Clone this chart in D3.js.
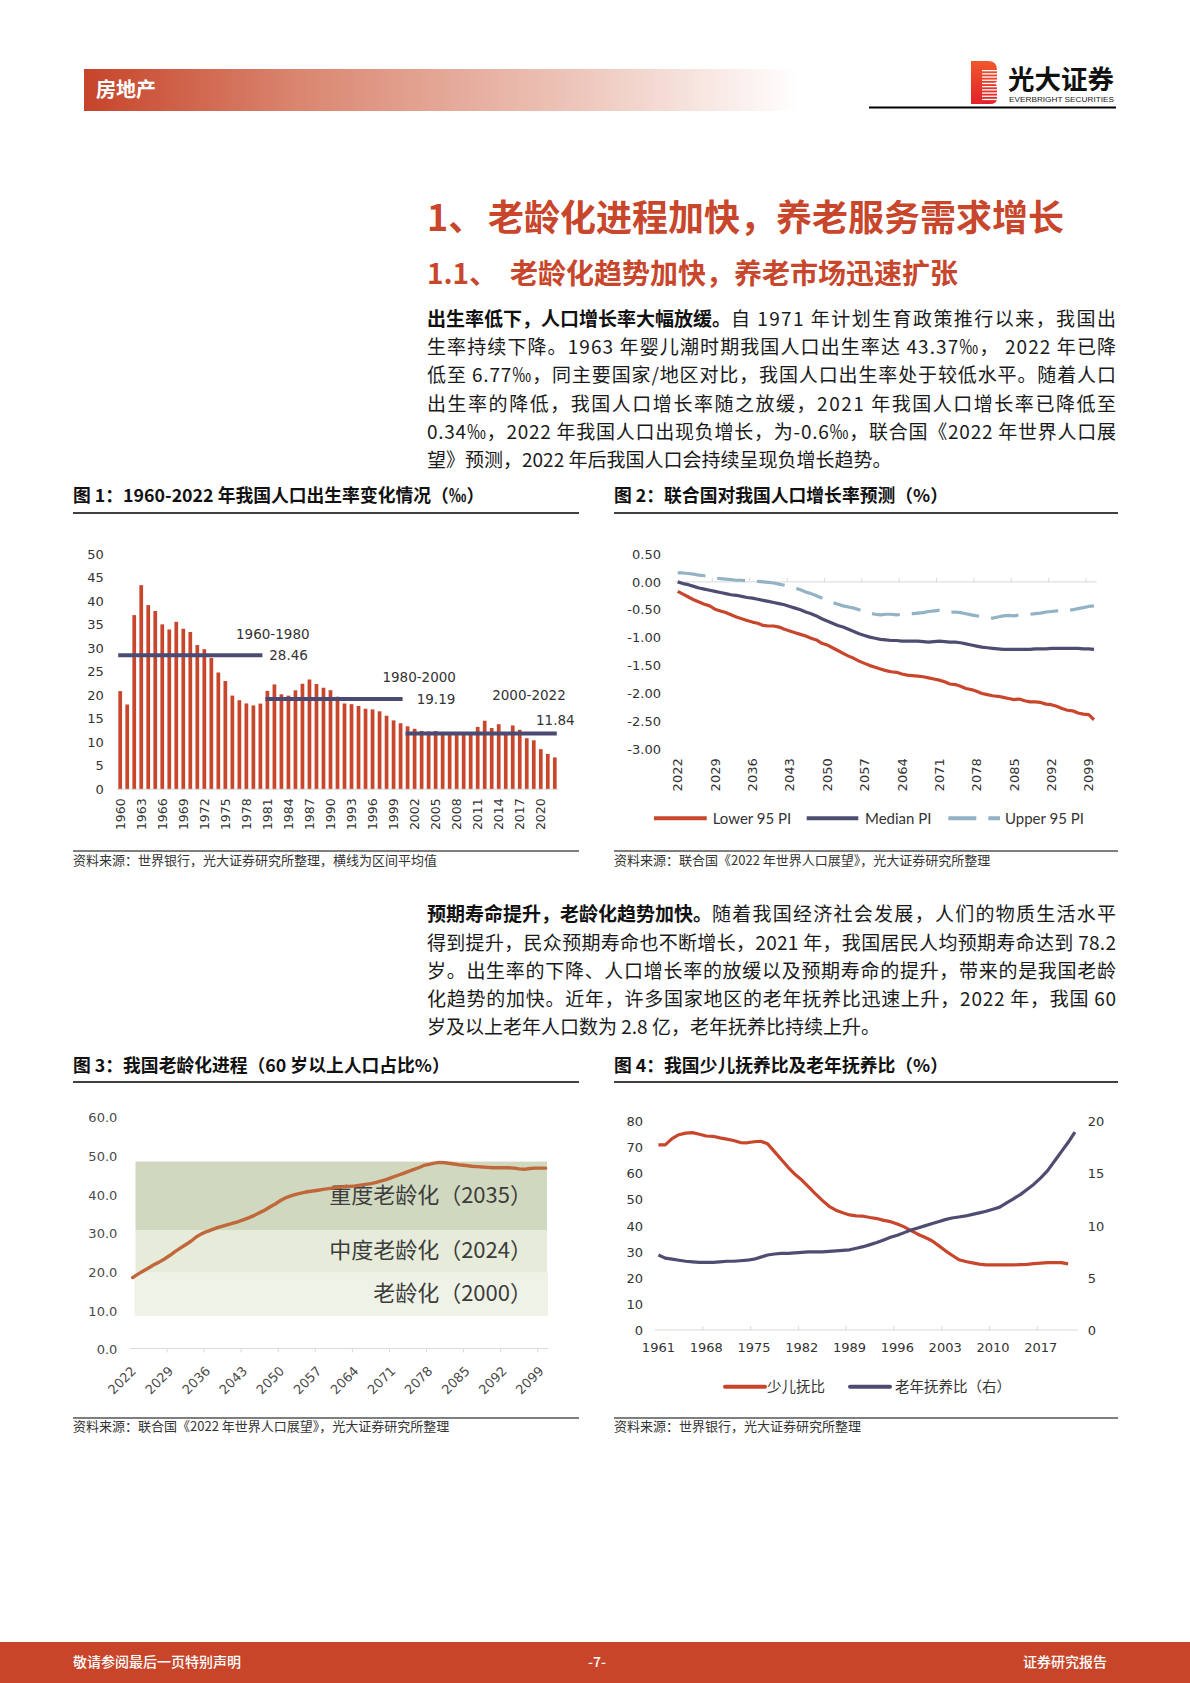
<!DOCTYPE html>
<html>
<head>
<meta charset="utf-8">
<script src="https://cdn.jsdelivr.net/npm/d3@7"></script>
<style>
  html, body { margin: 0; padding: 0; background: #ffffff; }
  svg { display: block; }
</style>
</head>
<body>
<svg id="page" width="1190" height="1683"></svg>
<script>
// ================= DATA =================
// Figure 1: birth rate (‰), 1960-2022
const birthYears = d3.range(1960, 2023);
const birthRate = [20.86, 18.02, 37.01, 43.37, 39.14, 37.88, 35.05, 33.96, 35.59, 34.11,
  33.43, 30.65, 29.77, 27.93, 24.82, 23.01, 19.91, 18.93, 18.25, 17.82,
  18.21, 20.91, 22.28, 20.19, 19.90, 21.04, 22.43, 23.33, 22.37, 21.58,
  21.06, 19.68, 18.24, 18.09, 17.70, 17.12, 16.98, 16.57, 15.64, 14.64,
  14.03, 13.38, 12.86, 12.41, 12.29, 12.40, 12.09, 12.10, 12.14, 11.95,
  11.90, 13.27, 14.57, 13.03, 13.83, 11.99, 13.57, 12.64, 10.86, 10.41,
  8.52, 7.52, 6.77];
const birthTicks = [0, 5, 10, 15, 20, 25, 30, 35, 40, 45, 50];
const birthXLabels = [1960, 1963, 1966, 1969, 1972, 1975, 1978, 1981, 1984, 1987, 1990,
  1993, 1996, 1999, 2002, 2005, 2008, 2011, 2014, 2017, 2020];
const avgPeriods = ["1960-1980", "1980-2000", "2000-2022"];
const avgFrom = [1960, 1981, 2001];
const avgTo = [1980, 2000, 2022];
const avgValues = [28.46, 19.19, 11.84];

// Figure 2: UN projection of population growth rate (%), 2022-2100
const projYears = d3.range(2022, 2101);
const lower95 = [-0.17, -0.22, -0.27, -0.32, -0.36, -0.40, -0.43, -0.49, -0.52, -0.55,
  -0.59, -0.63, -0.66, -0.69, -0.72, -0.74, -0.78, -0.79, -0.79, -0.81,
  -0.85, -0.88, -0.91, -0.94, -0.97, -1.01, -1.04, -1.10, -1.13, -1.18,
  -1.23, -1.28, -1.33, -1.37, -1.42, -1.46, -1.50, -1.53, -1.56, -1.59,
  -1.61, -1.62, -1.65, -1.67, -1.68, -1.69, -1.70, -1.72, -1.74, -1.76,
  -1.79, -1.83, -1.84, -1.87, -1.91, -1.93, -1.96, -2.00, -2.02, -2.04,
  -2.05, -2.07, -2.09, -2.11, -2.10, -2.13, -2.15, -2.15, -2.16, -2.19,
  -2.20, -2.23, -2.27, -2.30, -2.31, -2.35, -2.37, -2.38, -2.47];
const median = [0.00, -0.03, -0.05, -0.08, -0.11, -0.13, -0.15, -0.17, -0.19, -0.21,
  -0.23, -0.24, -0.26, -0.28, -0.29, -0.31, -0.33, -0.35, -0.37, -0.39,
  -0.41, -0.44, -0.47, -0.50, -0.54, -0.57, -0.61, -0.66, -0.70, -0.74,
  -0.78, -0.81, -0.85, -0.89, -0.93, -0.96, -0.99, -1.01, -1.03, -1.04,
  -1.05, -1.05, -1.06, -1.06, -1.06, -1.06, -1.07, -1.08, -1.07, -1.06,
  -1.07, -1.08, -1.08, -1.09, -1.11, -1.13, -1.15, -1.17, -1.18, -1.19,
  -1.20, -1.21, -1.21, -1.21, -1.21, -1.21, -1.21, -1.20, -1.20, -1.20,
  -1.19, -1.19, -1.19, -1.19, -1.19, -1.19, -1.20, -1.20, -1.21];
const upper95 = [0.16, 0.16, 0.15, 0.14, 0.12, 0.11, 0.10, 0.07, 0.06, 0.05,
  0.04, 0.03, 0.03, 0.02, 0.02, 0.01, 0.00, -0.01, -0.02, -0.04,
  -0.06, -0.08, -0.11, -0.14, -0.18, -0.21, -0.25, -0.29, -0.33, -0.37,
  -0.40, -0.43, -0.45, -0.47, -0.50, -0.53, -0.56, -0.58, -0.59, -0.58,
  -0.58, -0.59, -0.58, -0.58, -0.57, -0.56, -0.55, -0.53, -0.52, -0.51,
  -0.53, -0.54, -0.54, -0.55, -0.57, -0.59, -0.61, -0.62, -0.64, -0.65,
  -0.63, -0.61, -0.60, -0.61, -0.59, -0.58, -0.58, -0.57, -0.56, -0.54,
  -0.53, -0.52, -0.51, -0.50, -0.50, -0.48, -0.46, -0.44, -0.43];
const growthTicks = [0.5, 0, -0.5, -1, -1.5, -2, -2.5, -3];
const projXLabels = [2022, 2029, 2036, 2043, 2050, 2057, 2064, 2071, 2078, 2085, 2092, 2099];
const growthSeriesNames = ["Lower 95 PI", "Median PI", "Upper 95 PI"];

// Figure 3: share of population aged 60+ (%), 2022-2100
const agedShare = [18.6, 19.5, 20.3, 21.1, 21.9, 22.6, 23.4, 24.3, 25.3, 26.2,
  27.1, 28.0, 29.1, 29.9, 30.5, 31.0, 31.5, 31.9, 32.3, 32.7,
  33.1, 33.6, 34.1, 34.7, 35.4, 36.1, 36.9, 37.7, 38.6, 39.3,
  39.8, 40.2, 40.5, 40.8, 41.0, 41.2, 41.4, 41.6, 41.8, 42.0,
  42.1, 42.2, 42.3, 42.5, 42.7, 42.9, 43.2, 43.6, 44.0, 44.5,
  45.0, 45.5, 46.0, 46.5, 47.0, 47.6, 47.9, 48.2, 48.4, 48.3,
  48.1, 47.9, 47.7, 47.6, 47.4, 47.3, 47.2, 47.1, 47.0, 47.0,
  47.0, 47.0, 46.9, 46.7, 46.6, 46.8, 46.9, 46.9, 46.9];
const agedTicks = [0, 10, 20, 30, 40, 50, 60];
const agingStages = ["老龄化（2000）", "中度老龄化（2024）", "重度老龄化（2035）"];
const stageEdges = [8.7, 19.9, 30.9, 48.6];

// Figure 4: dependency ratios (%), 1961-2022
const depYears = d3.range(1961, 2023);
const childDep = [71.1, 71.1, 73.5, 75.0, 75.6, 75.8, 75.2, 74.5, 74.4, 73.8,
  73.3, 72.8, 72.0, 71.9, 72.3, 72.5, 71.5, 68.5, 65.5, 62.5,
  59.8, 57.6, 55.0, 52.3, 49.8, 47.5, 46.0, 45.0, 44.2, 43.8,
  43.7, 43.2, 42.8, 42.1, 41.6, 40.7, 39.6, 38.2, 36.8, 35.6,
  34.4, 32.5, 30.5, 28.7, 27.0, 26.3, 25.8, 25.3, 25.0, 25.0,
  25.0, 25.0, 25.0, 25.1, 25.2, 25.5, 25.7, 25.9, 25.9, 25.9,
  25.4];
const oldDep = [7.2, 6.9, 6.8, 6.7, 6.6, 6.55, 6.5, 6.5, 6.5, 6.55,
  6.6, 6.6, 6.65, 6.7, 6.8, 7.0, 7.2, 7.3, 7.35, 7.35,
  7.4, 7.45, 7.5, 7.5, 7.5, 7.55, 7.6, 7.65, 7.7, 7.85,
  8.0, 8.2, 8.4, 8.65, 8.9, 9.1, 9.35, 9.6, 9.8, 10.0,
  10.2, 10.4, 10.6, 10.75, 10.85, 10.95, 11.1, 11.25, 11.4, 11.6,
  11.8, 12.2, 12.6, 13.0, 13.5, 14.0, 14.6, 15.3, 16.2, 17.1,
  18.0, 19.0];
const depLeftTicks = [0, 10, 20, 30, 40, 50, 60, 70, 80];
const depRightTicks = [0, 5, 10, 15, 20];
const depXLabels = [1961, 1968, 1975, 1982, 1989, 1996, 2003, 2010, 2017];
const depSeriesNames = ["少儿抚比", "老年抚养比（右）"];

// ================= STYLE =================
const CJK = '"Noto Sans CJK SC", "Noto Sans", sans-serif';
const NUM = '"DejaVu Sans", sans-serif';
const RED = "#c8462b";
const PURPLE = "#4f4c71";
const LIGHTBLUE = "#93b3c5";
const TXT = "#333333";

const svg = d3.select("#page");
svg.append("rect").attr("width", 1190).attr("height", 1683).attr("fill", "#fff");
const defs = svg.append("defs");

function txt(x, y, s, size, opts = {}) {
  const t = svg.append("text").attr("x", x).attr("y", y).attr("dy", opts.dy || "0.36em")
    .attr("font-size", size).attr("font-family", opts.family || CJK)
    .attr("fill", opts.fill || "#111").attr("font-weight", opts.weight || 400)
    .attr("text-anchor", opts.anchor || "start").text(s);
  return t;
}
function hline(x1, x2, y, color, w) {
  svg.append("line").attr("x1", x1).attr("x2", x2).attr("y1", y).attr("y2", y)
    .attr("stroke", color).attr("stroke-width", w);
}
function cleanAxis(g, size, family, color) {
  g.select(".domain").remove();
  g.selectAll(".tick line").remove();
  g.attr("font-size", size).attr("font-family", family);
  g.selectAll("text").attr("fill", color);
}

// ================= HEADER =================
const hg = defs.append("linearGradient").attr("id", "hdr").attr("x1", 0).attr("x2", 1);
hg.append("stop").attr("offset", 0).attr("stop-color", "#c6442a");
hg.append("stop").attr("offset", 0.3).attr("stop-color", "#da8670");
hg.append("stop").attr("offset", 0.7).attr("stop-color", "#eec8bd");
hg.append("stop").attr("offset", 1).attr("stop-color", "#ffffff");
svg.append("rect").attr("x", 84).attr("y", 69).attr("width", 716).attr("height", 42).attr("fill", "url(#hdr)");
txt(96, 90, "房地产", 20, { fill: "#fff", weight: 700 });

const lgG = defs.append("linearGradient").attr("id", "logo").attr("x1", 0).attr("y1", 0).attr("x2", 0).attr("y2", 1);
lgG.append("stop").attr("offset", 0).attr("stop-color", "#f0582c");
lgG.append("stop").attr("offset", 1).attr("stop-color", "#e2222c");
svg.append("path").attr("d", "M971,61 L988,61 Q997,61 997,70 L997,80 Q997,83 994,83 Q997,84 997,88 L997,98 Q997,104 990,104 L971,104 Z")
  .attr("fill", "url(#logo)");
for (let i = 0; i < 10; i++) {
  svg.append("rect").attr("x", 982).attr("y", 70 + i * 3.2).attr("width", 16).attr("height", 1.3).attr("fill", "#fff");
}
txt(1008, 79, "光大证券", 26.5, { weight: 700, fill: "#111" });
txt(1009, 99.5, "EVERBRIGHT SECURITIES", 7.5, { family: '"Liberation Sans", sans-serif', fill: "#222" })
  .attr("textLength", 105).attr("lengthAdjust", "spacingAndGlyphs");
hline(869, 1116, 107.5, "#000", 2);

// ================= HEADINGS & PARAGRAPHS =================
txt(427, 218, "1、", 36, { fill: RED, weight: 700 });
txt(488, 218, "老龄化进程加快，养老服务需求增长", 36, { fill: RED, weight: 700 });
txt(427, 274, "1.1、", 28, { fill: RED, weight: 700 });
txt(510, 274, "老龄化趋势加快，养老市场迅速扩张", 28, { fill: RED, weight: 700 });

function paraLine(y, bold, rest, justify) {
  let x = 427;
  if (bold) {
    const b = txt(x, y, bold, 19, { weight: 700, fill: "#111" });
    x += b.node().getComputedTextLength();
  }
  const t = txt(x, y, rest, 19, { fill: "#1a1a1a" });
  if (justify) t.attr("textLength", 1116 - x).attr("lengthAdjust", "spacing");
}
const p1 = [
  ["出生率低下，人口增长率大幅放缓。", "自 1971 年计划生育政策推行以来，我国出", true],
  ["", "生率持续下降。1963 年婴儿潮时期我国人口出生率达 43.37‰， 2022 年已降", true],
  ["", "低至 6.77‰，同主要国家/地区对比，我国人口出生率处于较低水平。随着人口", true],
  ["", "出生率的降低，我国人口增长率随之放缓，2021  年我国人口增长率已降低至", true],
  ["", "0.34‰，2022 年我国人口出现负增长，为-0.6‰，联合国《2022  年世界人口展", true],
  ["", "望》预测，2022 年后我国人口会持续呈现负增长趋势。", false]
];
p1.forEach((l, i) => paraLine(319 + i * 28.3, l[0], l[1], l[2]));
const p2 = [
  ["预期寿命提升，老龄化趋势加快。", "随着我国经济社会发展，人们的物质生活水平", true],
  ["", "得到提升，民众预期寿命也不断增长，2021 年，我国居民人均预期寿命达到 78.2", true],
  ["", "岁。出生率的下降、人口增长率的放缓以及预期寿命的提升，带来的是我国老龄", true],
  ["", "化趋势的加快。近年，许多国家地区的老年抚养比迅速上升，2022 年，我国 60", true],
  ["", "岁及以上老年人口数为 2.8 亿，老年抚养比持续上升。", false]
];
p2.forEach((l, i) => paraLine(914.5 + i * 28.2, l[0], l[1], l[2]));

// ================= FIGURE FRAMES =================
function frame(x1, x2, yTitle, yRule, ySrcRule, ySrc, title, src) {
  txt(x1, yTitle, title, 17.8, { weight: 700, fill: "#111" });
  hline(x1, x2, yRule, "#000", 1.4);
  hline(x1, x2, ySrcRule, "#000", 1.2);
  txt(x1, ySrc, src, 13, { fill: TXT });
}
frame(73, 579, 496, 513, 851, 860, "图 1：1960-2022 年我国人口出生率变化情况（‰）", "资料来源：世界银行，光大证券研究所整理，横线为区间平均值");
frame(614, 1118, 496, 513, 851, 860, "图 2：联合国对我国人口增长率预测（%）", "资料来源：联合国《2022  年世界人口展望》，光大证券研究所整理");
frame(73, 579, 1066, 1082, 1418, 1426, "图 3：我国老龄化进程（60 岁以上人口占比%）", "资料来源：联合国《2022  年世界人口展望》，光大证券研究所整理");
frame(614, 1118, 1066, 1082, 1418, 1426, "图 4：我国少儿抚养比及老年抚养比（%）", "资料来源：世界银行，光大证券研究所整理");

// ================= FIGURE 1 =================
{
  const x = d3.scaleBand().domain(birthYears).range([116.7, 558.3]).paddingInner(0.47).paddingOuter(0.235);
  const y = d3.scaleLinear().domain([0, 50]).range([789.3, 554]);
  const g = svg.append("g");
  hline(116.7, 558.3, y(0), "#d9d9d9", 1);
  g.selectAll("rect.bar").data(birthRate).join("rect").attr("class", "bar")
    .attr("x", (d, i) => x(birthYears[i])).attr("width", x.bandwidth())
    .attr("y", d => y(d)).attr("height", d => y(0) - y(d)).attr("fill", RED);

  const ya = svg.append("g").attr("transform", "translate(116.7,0)")
    .call(d3.axisLeft(y).tickValues(birthTicks).tickSize(0).tickPadding(13));
  cleanAxis(ya, 13, NUM, TXT);

  const xa = svg.append("g").attr("transform", `translate(0,${y(0)})`)
    .call(d3.axisBottom(x).tickValues(birthXLabels).tickSize(0));
  cleanAxis(xa, 12.5, NUM, TXT);
  xa.selectAll("text").attr("transform", "rotate(-90)").attr("text-anchor", "end")
    .attr("x", -9).attr("y", 0).attr("dy", "0.36em");

  const avgLayout = [
    { pdx: 12.4, pdy: -21.3, vdx: 8.9, vdy: 0 },
    { pdx: 18.6, pdy: -21.6, vdx: 16.1, vdy: 0 },
    { pdx: -25.8, pdy: -38, vdx: -18.8, vdy: -13.3 }
  ];
  avgValues.forEach((v, i) => {
    const xs = x(avgFrom[i]) + x.bandwidth() / 2;
    const xe = x(avgTo[i]) + x.bandwidth() / 2;
    const yy = y(v);
    svg.append("line").attr("x1", xs).attr("x2", xe).attr("y1", yy).attr("y2", yy)
      .attr("stroke", "#4b4a73").attr("stroke-width", 4).attr("stroke-linecap", "square");
    const L = avgLayout[i];
    txt(xe + L.pdx, yy + L.pdy, avgPeriods[i], 13.5, { family: NUM, fill: TXT, anchor: "middle" });
    txt(xe + L.vdx, yy + L.vdy, v.toFixed(2), 13.5, { family: NUM, fill: TXT });
  });
}

// ================= FIGURE 2 =================
{
  const x = d3.scaleBand().domain(projYears).range([675, 1096.7]);
  const y = d3.scaleLinear().domain([-3, 0.5]).range([749.3, 554]);
  const cx = (i) => x(projYears[i]) + x.bandwidth() / 2;
  hline(675, 1096.7, y(0), "#d9d9d9", 1);
  projXLabels.slice(1).forEach(yr => {
    svg.append("line").attr("x1", x(yr)).attr("x2", x(yr)).attr("y1", y(0)).attr("y2", y(0) - 4)
      .attr("stroke", "#d9d9d9").attr("stroke-width", 1);
  });
  const ya = svg.append("g").attr("transform", "translate(675,0)")
    .call(d3.axisLeft(y).tickValues(growthTicks).tickSize(0).tickPadding(14).tickFormat(d => d.toFixed(2)));
  cleanAxis(ya, 13, NUM, TXT);
  const xa = svg.append("g").attr("transform", `translate(0,${y(-3)})`)
    .call(d3.axisBottom(x).tickValues(projXLabels).tickSize(0));
  cleanAxis(xa, 13, NUM, TXT);
  xa.selectAll("text").attr("transform", "rotate(-90)").attr("text-anchor", "end")
    .attr("x", -9).attr("y", 0).attr("dy", "0.36em");

  const line = d3.line().x((d, i) => cx(i)).y(d => y(d));
  const series = [lower95, median, upper95];
  const colors = [RED, PURPLE, LIGHTBLUE];
  const dashes = [null, null, "28,12"];
  series.forEach((s, k) => {
    svg.append("path").attr("d", line(s)).attr("fill", "none").attr("stroke", colors[k])
      .attr("stroke-width", 3.2).attr("stroke-linejoin", "round")
      .attr("stroke-dasharray", dashes[k]);
  });
  // legend
  const legX = [[654, 706.7, 712.7], [806.7, 858.3, 865], [948.3, 1000, 1005]];
  growthSeriesNames.forEach((n, k) => {
    svg.append("line").attr("x1", legX[k][0]).attr("x2", legX[k][1]).attr("y1", 818.3).attr("y2", 818.3)
      .attr("stroke", colors[k]).attr("stroke-width", 4).attr("stroke-dasharray", dashes[k]);
    txt(legX[k][2], 818.3, n, 15, { family: '"Lato", sans-serif', fill: TXT });
  });
}

// ================= FIGURE 3 =================
{
  const x = d3.scaleBand().domain(projYears).range([130, 548.3]);
  const y = d3.scaleLinear().domain([0, 60]).range([1349.5, 1117.5]);
  const cx = (i) => x(projYears[i]) + x.bandwidth() / 2;
  const bandColors = ["#eff2e6", "#e6ebda", "#d1d8c0"];
  const stageX = [[134.5, 548], [135.5, 547], [135.5, 547]];
  agingStages.forEach((s, k) => {
    svg.append("rect").attr("x", stageX[k][0]).attr("width", stageX[k][1] - stageX[k][0])
      .attr("y", y(stageEdges[k + 1])).attr("height", y(stageEdges[k]) - y(stageEdges[k + 1]))
      .attr("fill", bandColors[k]);
  });
  agingStages.forEach((s, k) => {
    txt(532, y((stageEdges[k] + stageEdges[k + 1]) / 2) - 1, s, 22, { fill: "#3d3d3d", anchor: "end" });
  });
  hline(130, 548.3, y(0) - 1, "#d9d9d9", 1.2);
  projXLabels.slice(1).forEach(yr => {
    svg.append("line").attr("x1", x(yr)).attr("x2", x(yr)).attr("y1", y(0) - 1).attr("y2", y(0) + 3)
      .attr("stroke", "#d9d9d9").attr("stroke-width", 1);
  });
  const ya = svg.append("g").attr("transform", "translate(130,0)")
    .call(d3.axisLeft(y).tickValues(agedTicks).tickSize(0).tickPadding(12.7).tickFormat(d => d.toFixed(1)));
  cleanAxis(ya, 13, NUM, "#4a4a4a");
  const xa = svg.append("g").attr("transform", `translate(0,${y(0)})`)
    .call(d3.axisBottom(x).tickValues(projXLabels).tickSize(0));
  cleanAxis(xa, 13, NUM, "#4a4a4a");
  xa.selectAll("text").attr("text-anchor", "end").attr("y", 0).attr("dy", "0.36em")
    .attr("transform", "translate(1,19) rotate(-45)");

  const line = d3.line().x((d, i) => cx(i)).y(d => y(d));
  svg.append("path").attr("d", line(agedShare)).attr("fill", "none").attr("stroke", "#c0683a")
    .attr("stroke-width", 3.4).attr("stroke-linejoin", "round").attr("stroke-linecap", "round");
}

// ================= FIGURE 4 =================
{
  const x = d3.scaleBand().domain(depYears).range([655, 1078.3]);
  const yL = d3.scaleLinear().domain([0, 80]).range([1330, 1121.7]);
  const yR = d3.scaleLinear().domain([0, 20]).range([1330, 1121.7]);
  const cx = (i) => x(depYears[i]) + x.bandwidth() / 2;
  hline(655, 1078.3, 1330, "#d9d9d9", 1);
  depXLabels.slice(1).forEach(yr => {
    svg.append("line").attr("x1", x(yr)).attr("x2", x(yr)).attr("y1", 1330).attr("y2", 1326)
      .attr("stroke", "#d9d9d9").attr("stroke-width", 1);
  });
  const yaL = svg.append("g").attr("transform", "translate(655,0)")
    .call(d3.axisLeft(yL).tickValues(depLeftTicks).tickSize(0).tickPadding(12));
  cleanAxis(yaL, 13, NUM, TXT);
  const yaR = svg.append("g").attr("transform", "translate(1078.3,0)")
    .call(d3.axisRight(yR).tickValues(depRightTicks).tickSize(0).tickPadding(9.5));
  cleanAxis(yaR, 13, NUM, TXT);
  const xa = svg.append("g").attr("transform", "translate(0,1330)")
    .call(d3.axisBottom(x).tickValues(depXLabels).tickSize(0).tickPadding(13));
  cleanAxis(xa, 13, NUM, TXT);

  const lineL = d3.line().x((d, i) => cx(i)).y(d => yL(d));
  const lineR = d3.line().x((d, i) => cx(i)).y(d => yR(d));
  svg.append("path").attr("d", lineL(childDep)).attr("fill", "none").attr("stroke", RED)
    .attr("stroke-width", 3.2).attr("stroke-linejoin", "round");
  svg.append("path").attr("d", lineR(oldDep)).attr("fill", "none").attr("stroke", PURPLE)
    .attr("stroke-width", 3.2).attr("stroke-linejoin", "round");
  const legX = [[725, 765, 767], [850, 890, 895]];
  const legC = [RED, PURPLE];
  depSeriesNames.forEach((n, k) => {
    svg.append("line").attr("x1", legX[k][0]).attr("x2", legX[k][1]).attr("y1", 1386.7).attr("y2", 1386.7)
      .attr("stroke", legC[k]).attr("stroke-width", 4).attr("stroke-linecap", "round");
    txt(legX[k][2], 1386.7, n, 14.5, { fill: TXT });
  });
}

// ================= FOOTER =================
svg.append("rect").attr("x", 0).attr("y", 1642).attr("width", 1190).attr("height", 41).attr("fill", "#c8452a");
txt(73, 1662, "敬请参阅最后一页特别声明", 14, { fill: "#fff", weight: 500 });
txt(597, 1662, "-7-", 14, { fill: "#fff", anchor: "middle", weight: 500 });
txt(1107, 1662, "证券研究报告", 14, { fill: "#fff", anchor: "end", weight: 500 });
</script>
</body>
</html>
